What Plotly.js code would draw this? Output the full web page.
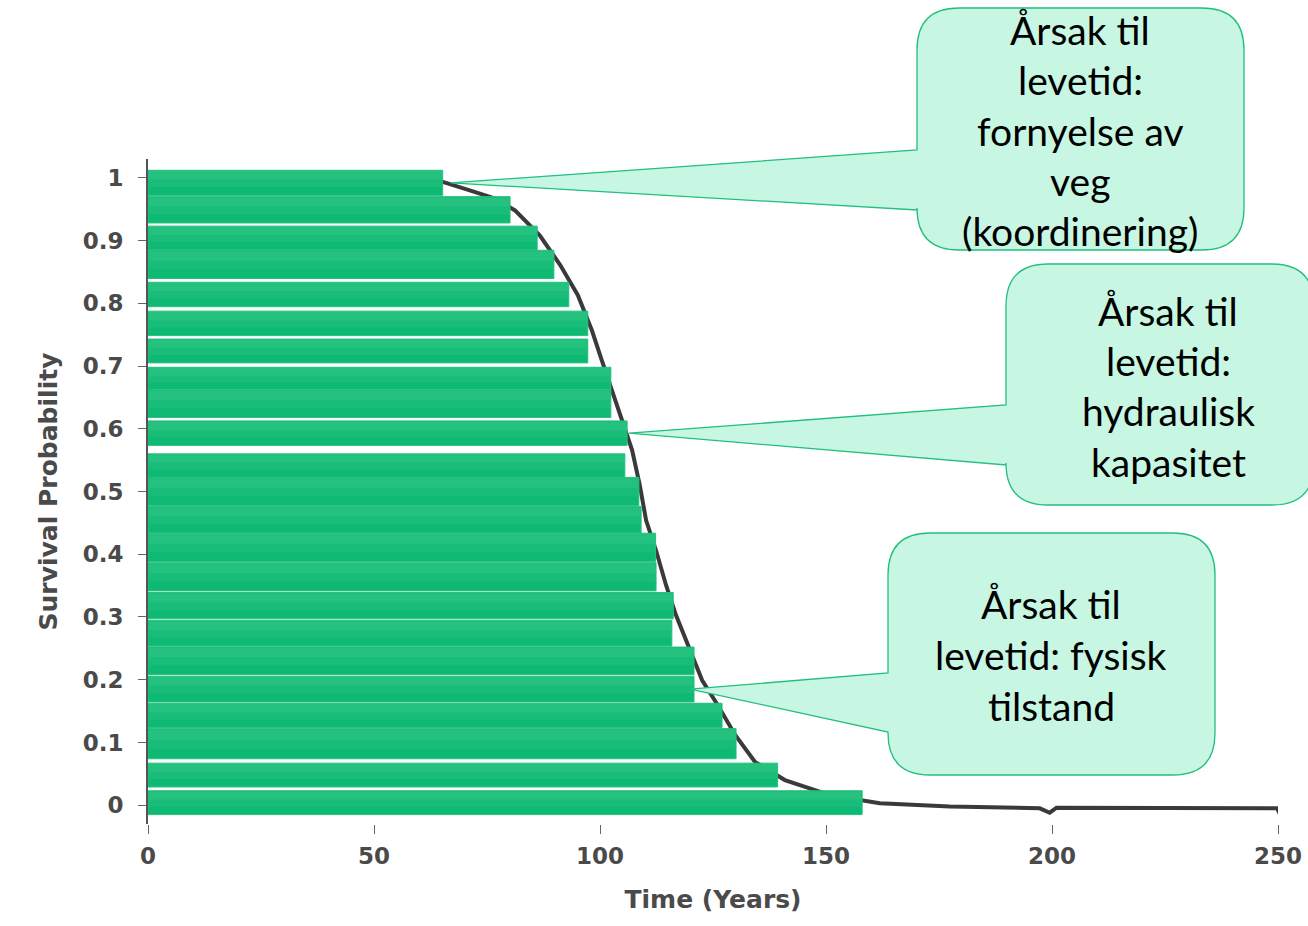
<!DOCTYPE html>
<html>
<head>
<meta charset="utf-8">
<script src="https://cdn.plot.ly/plotly-3.0.1.min.js"></script>
<style>html,body{margin:0;padding:0;background:#fff;}#chart{width:1308px;height:926px;}</style>
</head>
<body>
<div id="chart"></div>
<script>
// ---- data ----
// bar centres on the survival-probability axis, bar thickness, and bar length in years
const barProb = [0.992, 0.949, 0.904, 0.862, 0.814, 0.768, 0.724, 0.680, 0.640, 0.593, 0.541, 0.500,
                 0.455, 0.411, 0.364, 0.318, 0.274, 0.230, 0.185, 0.143, 0.098, 0.048, 0.004];
const barThick = [0.040, 0.042, 0.038, 0.045, 0.039, 0.039, 0.038, 0.036, 0.044, 0.039, 0.038, 0.045,
                  0.042, 0.045, 0.045, 0.042, 0.041, 0.044, 0.041, 0.039, 0.048, 0.038, 0.038];
const barYears = [65.2, 80.1, 86.1, 89.8, 93.1, 97.3, 97.3, 102.4, 102.4, 106.0, 105.5, 108.6,
                  109.1, 112.3, 112.4, 116.2, 115.9, 120.8, 120.8, 127.0, 130.1, 139.3, 158.0];

// scanned survival curve behind the bars
const curveYears = [62.4, 65.7, 71.2, 76.8, 81.2, 86.7, 91.2, 95.1, 98.2, 100.4, 103.1, 104.9, 107.1,
                    108.8, 110.2, 112.4, 114.6, 116.8, 119.9, 122.6, 126.1, 129.9, 134.3, 140.9,
                    150.9, 161.9, 177.4, 197.3, 199.5, 201.0, 249.8, 250.4];
const curveProb = [1.0, 0.993, 0.980, 0.967, 0.948, 0.908, 0.861, 0.813, 0.757, 0.709, 0.653, 0.614,
                   0.566, 0.510, 0.454, 0.406, 0.351, 0.303, 0.247, 0.199, 0.159, 0.112, 0.069, 0.040,
                   0.016, 0.003, -0.002, -0.005, -0.012, -0.004, -0.005, -0.014];

const xTickVals = [0, 50, 100, 150, 200, 250];
const yTickVals = [0, 0.1, 0.2, 0.3, 0.4, 0.5, 0.6, 0.7, 0.8, 0.9, 1];

// callouts: text lines and which bar they point to
const callouts = [
  {lines: ["Årsak til", "levetid:", "fornyelse av", "veg", "(koordinering)"], bar: 0},
  {lines: ["Årsak til", "levetid:", "hydraulisk", "kapasitet"], bar: 9},
  {lines: ["Årsak til", "levetid: fysisk", "tilstand"], bar: 18}
];

// ---- layout geometry ----
const W = 1308, H = 926;
const L = 148, R = 30, T = 159, B = 102;
const xRange = [0, 250], yRange = [-0.03, 1.03];
const plotW = W - L - R, plotH = H - T - B;
const pxToPaperX = px => (px - L) / plotW;
const pxToPaperY = py => (H - B - py) / plotH;
const dataToPaperX = x => (x - xRange[0]) / (xRange[1] - xRange[0]);
const dataToPaperY = y => (y - yRange[0]) / (yRange[1] - yRange[0]);

// callout box geometry (pixels)
const boxes = [
  {x0: 917, x1: 1244, y0: 8, y1: 250, pa: 150, pb: 210, tipDx: 8, cx: 1080, ly: [30, 80, 131, 181, 231]},
  {x0: 1006, x1: 1314, y0: 264, y1: 505, pa: 405, pb: 465, tipDx: 2, cx: 1168, ly: [311, 361, 411, 462]},
  {x0: 888, x1: 1215, y0: 533, y1: 775, pa: 673, pb: 732, tipDx: -4, cx: 1051, ly: [604, 655, 706]}
];

const shapes = [], annotations = [];
callouts.forEach((c, i) => {
  const b = boxes[i];
  const r = 42;
  const tipX = dataToPaperX(barYears[c.bar]) + b.tipDx / plotW;
  const tipY = dataToPaperY(barProb[c.bar]);
  const P = (x, y) => pxToPaperX(x).toFixed(5) + ',' + pxToPaperY(y).toFixed(5);
  const path =
    'M' + P(b.x0 + r, b.y0) +
    ' L' + P(b.x1 - r, b.y0) +
    ' Q' + P(b.x1, b.y0) + ' ' + P(b.x1, b.y0 + r) +
    ' L' + P(b.x1, b.y1 - r) +
    ' Q' + P(b.x1, b.y1) + ' ' + P(b.x1 - r, b.y1) +
    ' L' + P(b.x0 + r, b.y1) +
    ' Q' + P(b.x0, b.y1) + ' ' + P(b.x0, b.y1 - r) +
    ' L' + P(b.x0, b.pb) +
    ' L' + tipX.toFixed(5) + ',' + tipY.toFixed(5) +
    ' L' + P(b.x0, b.pa) +
    ' L' + P(b.x0, b.y0 + r) +
    ' Q' + P(b.x0, b.y0) + ' ' + P(b.x0 + r, b.y0) + ' Z';
  shapes.push({type: 'path', xref: 'paper', yref: 'paper', path: path,
               fillcolor: '#c7f6e3', line: {color: '#22bf7e', width: 1.3}, layer: 'above'});
  c.lines.forEach((t, k) => {
    annotations.push({xref: 'paper', yref: 'paper', x: pxToPaperX(b.cx), y: pxToPaperY(b.ly[k]),
      xanchor: 'center', yanchor: 'middle', showarrow: false, text: t,
      font: {family: 'Lato, "Open Sans", sans-serif', size: 39, color: '#000'}});
  });
});

const traces = [
  {type: 'scatter', mode: 'lines', x: curveYears, y: curveProb, xaxis: 'x', yaxis: 'y',
   line: {color: '#3a3a3a', width: 4}, hoverinfo: 'skip', showlegend: false},
  {type: 'bar', orientation: 'h', x: barYears, y: barProb, width: barThick, base: 0, xaxis: 'x2', yaxis: 'y2',
   marker: {color: '#0eb973', line: {color: '#27c280', width: 1}}, hoverinfo: 'skip', showlegend: false},
  {type: 'bar', orientation: 'h', x: barYears.map(v => v - 0.3), y: barProb.map((p, i) => p + barThick[i] * 0.15),
   width: barThick.map(t => t * 0.64), base: 0.15, xaxis: 'x2', yaxis: 'y2',
   marker: {color: 'rgba(70,205,145,0.2)', line: {width: 0}}, hoverinfo: 'skip', showlegend: false},
  {type: 'bar', orientation: 'h', x: barYears.map(v => v - 0.3), y: barProb.map((p, i) => p + barThick[i] * 0.3),
   width: barThick.map(t => t * 0.34), base: 0.15, xaxis: 'x2', yaxis: 'y2',
   marker: {color: 'rgba(80,210,150,0.22)', line: {width: 0}}, hoverinfo: 'skip', showlegend: false}
];

const tickFont = {size: 23, color: '#4a4a4a', family: '"DejaVu Sans", sans-serif', weight: 'bold'};
const titleFont = {size: 25, color: '#4a4a4a', family: '"DejaVu Sans", sans-serif', weight: 'bold'};

const layout = {
  width: W, height: H,
  margin: {l: L, r: R, t: T, b: B, pad: 0},
  paper_bgcolor: '#fff', plot_bgcolor: '#fff',
  barmode: 'overlay',
  showlegend: false,
  font: {family: '"DejaVu Sans", sans-serif', color: '#333'},
  xaxis: {range: xRange, tickvals: xTickVals, ticks: 'outside', ticklen: 9, tickcolor: '#666',
          ticklabelstandoff: 2,
          showgrid: false, zeroline: false, showline: false, tickfont: tickFont,
          title: {text: 'Time (Years)', font: titleFont, standoff: 22}},
  yaxis: {range: yRange, tickvals: yTickVals, ticks: 'outside', ticklen: 8, tickcolor: '#666',
          ticklabelstandoff: 10,
          showgrid: false, zeroline: false, showline: true, linecolor: '#555', linewidth: 2,
          tickfont: tickFont,
          title: {text: 'Survival Probability', font: titleFont, standoff: 18}},
  xaxis2: {range: xRange, overlaying: 'x', visible: false},
  yaxis2: {range: yRange, overlaying: 'y', visible: false},
  shapes: shapes,
  annotations: annotations
};

Plotly.newPlot('chart', traces, layout, {displayModeBar: false, staticPlot: true});
</script>
</body>
</html>
